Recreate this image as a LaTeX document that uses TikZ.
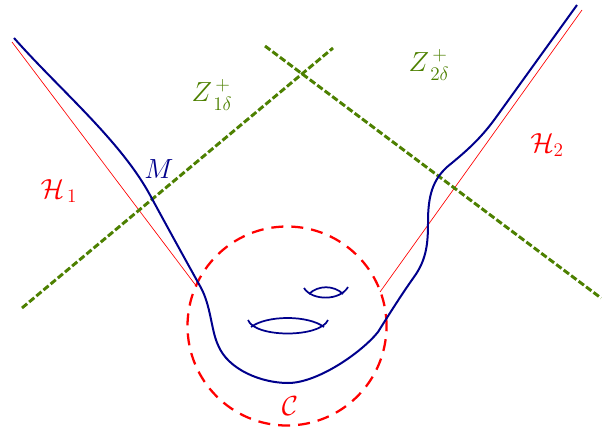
\documentclass[tikz,border=0pt]{standalone}
\usepackage{amsmath}
\DeclareMathSizes{20}{20}{16}{12}
\begin{document}
\begin{tikzpicture}[x=0.75pt,y=-0.75pt,
  mblue/.style={draw={rgb,255:red,0;green,0;blue,140},line width=1.5pt},
  gdash/.style={draw={rgb,255:red,77;green,128;blue,0},line width=2.2pt,dash pattern=on 5pt off 2pt},
  rthin/.style={draw=red,line width=0.5pt},
  rdash/.style={draw=red,line width=1.7pt,dash pattern=on 9pt off 6pt},
  lab/.style={inner sep=0pt,font=\huge}]
\useasboundingbox (0,0) rectangle (602,435);
% red hyperplanes
\coordinate (h1a) at (12,42); \coordinate (h1b) at (197,287);
\coordinate (h2a) at (582,10); \coordinate (h2b) at (380,292);
\draw[rthin] (h1a) -- (h1b);
\draw[rthin] (h2a) -- (h2b);
% green dashed
\coordinate (g1a) at (22,308); \coordinate (g1b) at (333,48);
\coordinate (g2a) at (265,46); \coordinate (g2b) at (601,298);
\draw[gdash] (g1a) -- (g1b);
\draw[gdash] (g2a) -- (g2b);
% circle
\node[circle,rdash,minimum size=199*0.75pt,inner sep=0pt] (C) at (287,326) {};
% manifold M
\coordinate (m0) at (14,38); \coordinate (m9) at (577,5);
\draw[mblue] (m0) .. controls (60,90) and (120,140) .. (150,195)
  .. controls (170,232) and (190,268) .. (200,286)
  .. controls (211,305) and (211,330) .. (218,345)
  .. controls (228,370) and (262,383) .. (288,383)
  .. controls (318,383) and (362,352) .. (378,332)
  .. controls (393,308) and (404,291) .. (414,277)
  .. controls (427,259) and (428,242) .. (428,222)
  .. controls (428,195) and (433,180) .. (447,167)
  .. controls (464,153) and (480,140) .. (497,116) -- (m9);
% handles
\draw[mblue,line width=1.3pt] (304,288) .. controls (312,301) and (340,301) .. (348,287);
\draw[mblue,line width=1.3pt] (309,294) .. controls (318,285) and (334,285) .. (343,294);
\draw[mblue,line width=1.3pt] (248,320) .. controls (255,338) and (320,338) .. (328,320);
\draw[mblue,line width=1.3pt] (251,327) .. controls (267,315) and (308,315) .. (324,327);
% labels
\node[lab,text={rgb,255:red,77;green,128;blue,0}] (z1) at (212,95) {$Z^{\,+}_{\,1\delta}$};
\node[lab,text={rgb,255:red,77;green,128;blue,0}] (z2) at (429,65) {$Z^{\,+}_{\,2\delta}$};
\node[lab,text=red] (H1) at (59,191) {$\mathcal{H}_{\,1}$};
\node[lab,text=red] (H2) at (547,145) {$\mathcal{H}_{2}$};
\node[lab,text={rgb,255:red,0;green,0;blue,140}] (M) at (159,169) {$M$};
\node[lab,text=red] (Cl) at (290,406) {$\mathcal{C}$};
\end{tikzpicture}
\end{document}
